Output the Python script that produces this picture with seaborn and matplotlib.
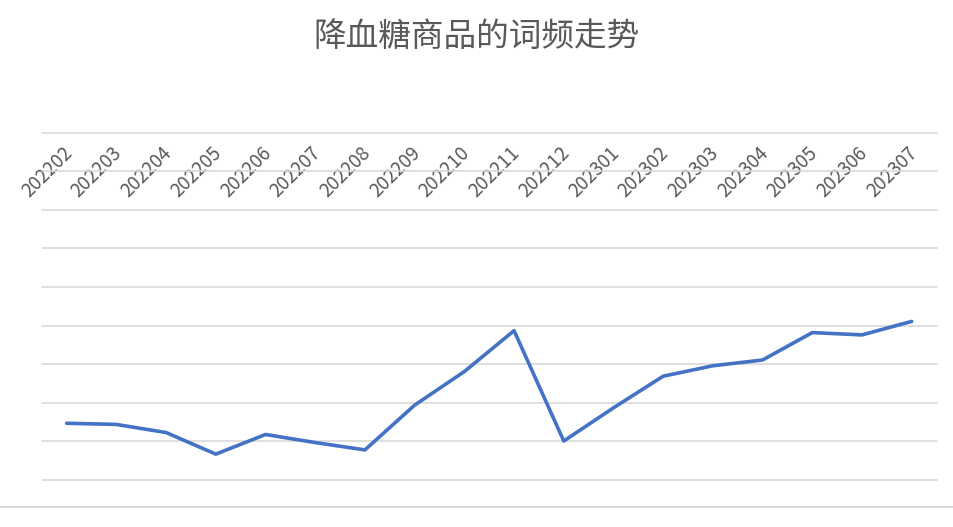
import matplotlib
matplotlib.use("Agg")
import matplotlib.pyplot as plt
import matplotlib.transforms as mtransforms
import seaborn as sns
import pandas as pd
from matplotlib.lines import Line2D

# ---- data (y axis has no labels, units = 100 per gridline) ----
months = ["202202", "202203", "202204", "202205", "202206", "202207", "202208",
          "202209", "202210", "202211", "202212", "202301", "202302", "202303",
          "202304", "202305", "202306", "202307"]
freq = [147, 144, 123, 67, 118, 97, 78, 194, 281, 387, 101, 187, 269, 296,
        311, 382, 376, 411]
title = "降血糖商品的词频走势"

sns.set_theme(style="white")
plt.rcParams['font.family'] = ['Noto Sans CJK SC', 'DejaVu Sans']

W, H = 954, 527
fig = plt.figure(figsize=(W / 100, H / 100), dpi=100)
left, right = 41.85, 936.55
top, bottom = 132.7, 480.0
ax = fig.add_axes([left / W, 1 - bottom / H, (right - left) / W, (bottom - top) / H])

df = pd.DataFrame({"month": months, "freq": freq})
sns.lineplot(data=df, x="month", y="freq", sort=False, color="#4472C4",
             linewidth=2.6, ax=ax)

ax.set_xlim(-0.5, len(months) - 0.5)
ax.set_ylim(0, 900)
ax.set_yticks(range(0, 901, 100))
ax.set_axisbelow(True)
ax.yaxis.grid(True, color="#D9D9D9", linewidth=1.2)
for gl in ax.get_ygridlines():
    gl.set_clip_on(False)
ax.xaxis.grid(False)
ax.tick_params(axis='y', left=False, right=False, labelleft=False)
ax.xaxis.tick_top()
ax.tick_params(axis='x', top=False, bottom=False, labeltop=True,
               labelbottom=False, pad=-13)
ax.set_xticks(range(len(months)))
ax.set_xticklabels(months, rotation=45, ha='right', va='top',
                   rotation_mode='anchor', fontsize=13.5, color='#595959')
shift = mtransforms.ScaledTranslation(-5 / 100, 0, fig.dpi_scale_trans)
for lab in ax.get_xticklabels():
    lab.set_transform(lab.get_transform() + shift)
for s in ax.spines.values():
    s.set_visible(False)
ax.set_xlabel("")
ax.set_ylabel("")

fig.text(0.5, 1 - 37 / H, title, ha='center', va='center', fontsize=23.5,
         color='#595959')
fig.add_artist(Line2D([0, 1], [1 - 507 / H] * 2, color='#D9D9D9', lw=1.5,
                      transform=fig.transFigure))

fig.savefig("out.png", dpi=100)
